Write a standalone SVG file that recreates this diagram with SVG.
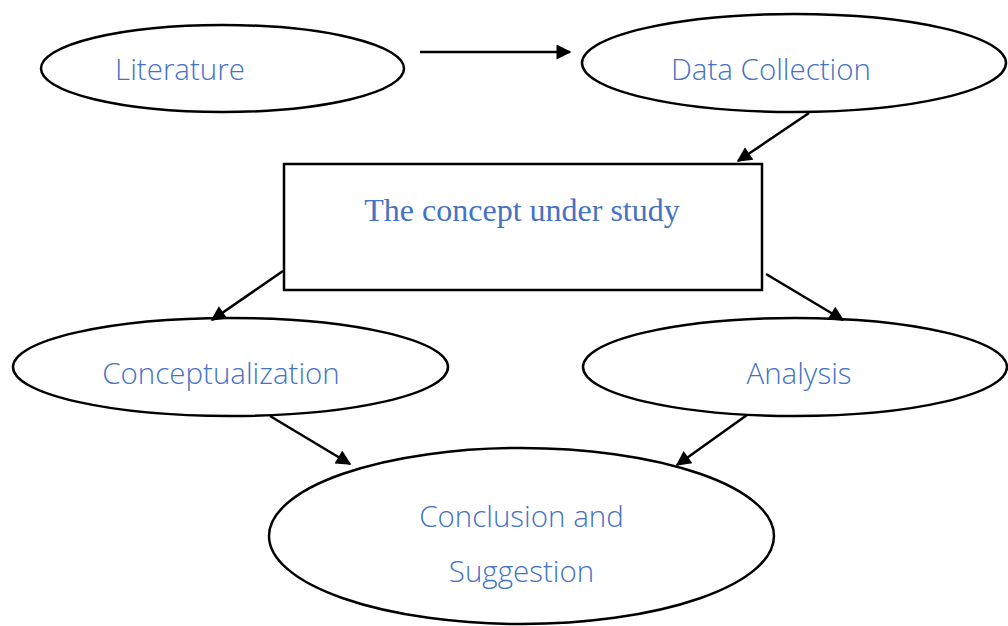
<svg xmlns="http://www.w3.org/2000/svg" width="1008" height="626" viewBox="0 0 1008 626">
<style>
.shape{fill:#fff;stroke:#000;stroke-width:2.5}
.lbl{font-family:"Open Sans","Noto Sans",sans-serif;font-size:29.5px;font-weight:300;fill:#4472C4;text-anchor:middle}
.ser{font-family:"Liberation Serif","Times New Roman",serif;font-size:32px;fill:#4472C4;text-anchor:middle}
.conn{stroke:#000;stroke-width:2.5;fill:none;marker-end:url(#ah)}
</style>
<defs>
<marker id="ah" viewBox="0 0 10 10" refX="9" refY="5" markerWidth="6.5" markerHeight="6" orient="auto" markerUnits="strokeWidth">
<path d="M0,0 L10,5 L0,10 z" fill="#000"/>
</marker>
</defs>
<rect width="1008" height="626" fill="#fff"/>
<g id="literature">
<ellipse class="shape" cx="222.5" cy="68.5" rx="181.5" ry="43.5"/>
<text class="lbl" x="180" y="80">Literature</text>
</g>
<g id="data-collection">
<ellipse class="shape" cx="794" cy="63" rx="212" ry="49"/>
<text class="lbl" x="771" y="80">Data Collection</text>
</g>
<g id="concept">
<rect class="shape" x="284" y="164" width="478" height="126"/>
<text class="ser" x="522" y="221">The concept under study</text>
</g>
<g id="conceptualization">
<ellipse class="shape" cx="230.5" cy="367" rx="217.5" ry="49"/>
<text class="lbl" x="221" y="384">Conceptualization</text>
</g>
<g id="analysis">
<ellipse class="shape" cx="795" cy="367" rx="212" ry="49"/>
<text class="lbl" x="799" y="384">Analysis</text>
</g>
<g id="conclusion">
<ellipse class="shape" cx="521.5" cy="536" rx="252.5" ry="88"/>
<text class="lbl" x="521.5" y="527">Conclusion and</text>
<text class="lbl" x="521.5" y="582">Suggestion</text>
</g>
<g id="connectors">
<line class="conn" x1="420" y1="52" x2="570" y2="52"/>
<line class="conn" x1="809" y1="113" x2="738" y2="161"/>
<line class="conn" x1="283" y1="271" x2="212" y2="320"/>
<line class="conn" x1="766" y1="274" x2="843" y2="320"/>
<line class="conn" x1="270" y1="416" x2="350" y2="464"/>
<line class="conn" x1="747" y1="415" x2="677" y2="465"/>
</g>
</svg>
